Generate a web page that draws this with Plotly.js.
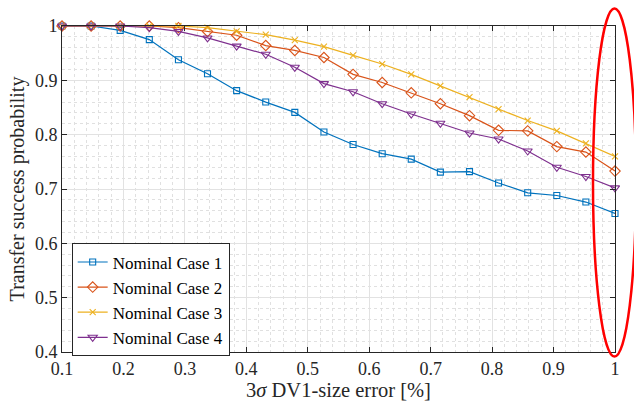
<!DOCTYPE html>
<html>
<head>
<meta charset="utf-8">
<script src="https://cdn.plot.ly/plotly-3.0.1.min.js"></script>
<style>html,body{margin:0;padding:0;background:#fff}#chart{width:634px;height:409px}</style>
</head>
<body>
<div id="chart"></div>
<script>
var errorPct = [0.1, 0.1474, 0.1947, 0.2421, 0.2895, 0.3368, 0.3842, 0.4316, 0.4789, 0.5263,
                0.5737, 0.6211, 0.6684, 0.7158, 0.7632, 0.8105, 0.8579, 0.9053, 0.9526, 1.0];
var case1 = [1.000, 1.000, 0.992, 0.975, 0.938, 0.912, 0.881, 0.860, 0.841, 0.805,
             0.782, 0.765, 0.755, 0.731, 0.732, 0.711, 0.693, 0.688, 0.676, 0.655];
var case2 = [1.000, 1.000, 1.000, 1.000, 0.997, 0.990, 0.983, 0.964, 0.955, 0.942,
             0.911, 0.896, 0.877, 0.857, 0.835, 0.808, 0.807, 0.778, 0.768, 0.733];
var case3 = [1.000, 1.000, 1.000, 1.000, 1.000, 0.997, 0.990, 0.984, 0.974, 0.962,
             0.946, 0.930, 0.911, 0.890, 0.869, 0.847, 0.826, 0.807, 0.784, 0.760];
var case4 = [1.000, 1.000, 1.000, 0.997, 0.990, 0.978, 0.963, 0.948, 0.924, 0.894,
             0.879, 0.857, 0.838, 0.821, 0.803, 0.792, 0.770, 0.740, 0.723, 0.702];
var seriesNames = ['Nominal Case 1', 'Nominal Case 2', 'Nominal Case 3', 'Nominal Case 4'];
var xTicks = [0.1, 0.2, 0.3, 0.4, 0.5, 0.6, 0.7, 0.8, 0.9, 1];
var yTicks = [0.4, 0.5, 0.6, 0.7, 0.8, 0.9, 1];

var colors = ['#0072BD', '#D95319', '#EDB120', '#7E2F8E'];
var symbols = ['square-open', 'diamond-open', 'x-thin-open', 'triangle-down-open'];
var sizes = [6, 8, 6, 8];
var allY = [case1, case2, case3, case4];

var traces = allY.map(function (ys, i) {
  return {
    x: errorPct, y: ys, name: seriesNames[i], type: 'scatter', mode: 'lines+markers',
    line: {color: colors[i], width: 1.2},
    marker: {symbol: symbols[i], size: sizes[i], color: colors[i], line: {color: colors[i], width: 1.1}},
    cliponaxis: false
  };
});

var serif = 'Liberation Serif, Times New Roman, serif';
var axisCommon = {
  showline: true, linecolor: '#262626', linewidth: 1, mirror: 'allticks',
  ticks: 'inside', ticklen: 5, tickwidth: 1, tickcolor: '#262626',
  showgrid: true, gridcolor: '#e2e2e2', gridwidth: 1, zeroline: false,
  tickfont: {family: serif, size: 18, color: '#262626'},
  minor: {showgrid: true, gridcolor: '#e0e0e0', griddash: 'dot', gridwidth: 1, ticks: ''}
};

var layout = {
  width: 634, height: 409,
  margin: {l: 62, r: 19, t: 25.5, b: 56.5},
  paper_bgcolor: '#ffffff', plot_bgcolor: '#ffffff',
  font: {family: serif, color: '#262626'},
  showlegend: true,
  xaxis: Object.assign({}, axisCommon, {
    range: [0.1, 1], tickvals: xTicks, ticktext: xTicks.map(String),
    minor: Object.assign({}, axisCommon.minor, {dtick: 0.02, tick0: 0.1}),
    title: {text: '3<i>σ</i> DV1-size error [%]', font: {family: serif, size: 20.5, color: '#262626'}, standoff: 4}
  }),
  yaxis: Object.assign({}, axisCommon, {
    range: [0.4, 1], tickvals: yTicks, ticktext: yTicks.map(String),
    minor: Object.assign({}, axisCommon.minor, {dtick: 0.02, tick0: 0.4}),
    title: {text: 'Transfer success probability', font: {family: serif, size: 20, color: '#262626'}, standoff: 4}
  }),
  legend: {
    x: 0.0175, y: 0.333, xanchor: 'left', yanchor: 'top',
    bgcolor: '#ffffff', bordercolor: '#262626', borderwidth: 1,
    font: {family: 'Liberation Serif', size: 17, color: '#000000'},
    itemwidth: 30, tracegroupgap: 0
  },
  shapes: [{
    type: 'circle', xref: 'paper', yref: 'paper',
    x0: 0.9602, x1: 1.038, y0: -0.0138, y1: 1.0535,
    line: {color: '#ff0000', width: 2.5}, layer: 'above'
  }]
};

Plotly.newPlot('chart', traces, layout, {displayModeBar: false, staticPlot: true});
</script>
</body>
</html>
